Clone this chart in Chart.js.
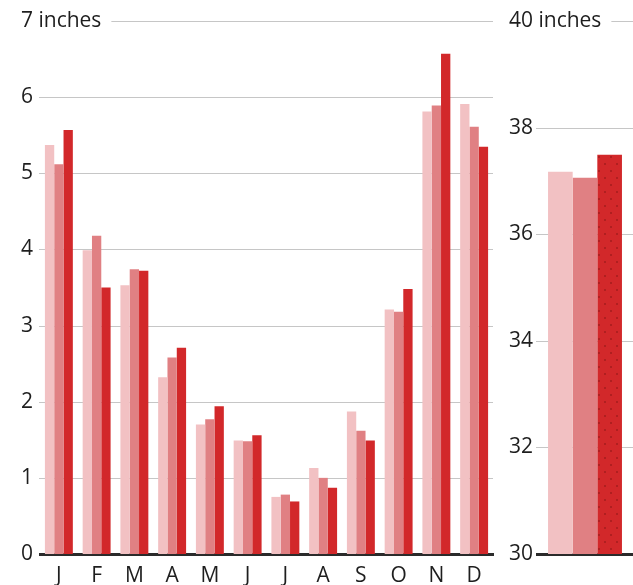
<!DOCTYPE html>
<html>
<head>
<meta charset="utf-8">
<script src="https://cdn.jsdelivr.net/npm/chart.js@4.4.1/dist/chart.umd.min.js"></script>
<style>
  html, body { margin: 0; padding: 0; background: #ffffff; }
  body { width: 633px; height: 585px; position: relative; overflow: hidden; }
  canvas { position: absolute; top: 0; }
  #monthly { left: 0; }
  #annual { left: 500px; }
</style>
</head>
<body>
<canvas id="monthly" width="500" height="585"></canvas>
<canvas id="annual" width="133" height="585"></canvas>
<script>
// ---- data ----
const months = ['J', 'F', 'M', 'A', 'M', 'J', 'J', 'A', 'S', 'O', 'N', 'D'];
const seriesNames = ['Period 1', 'Period 2', 'Period 3'];
const period1 = [5.37, 3.99, 3.53, 2.32, 1.70, 1.49, 0.75, 1.13, 1.87, 3.21, 5.81, 5.91];
const period2 = [5.12, 4.18, 3.74, 2.58, 1.77, 1.48, 0.78, 1.00, 1.62, 3.18, 5.89, 5.61];
const period3 = [5.57, 3.50, 3.72, 2.71, 1.94, 1.56, 0.69, 0.87, 1.49, 3.48, 6.57, 5.35];
const annualCategory = ['Year'];
const annualTotals = [37.17, 37.06, 37.49];
const monthlyTopLabel = '7 inches';
const annualTopLabel = '40 inches';

// ---- style ----
const FONT = '"Open Sans", "DejaVu Sans", sans-serif';
const FONT_SIZE = 21;
const colors = ['#f2c1c3', '#e08083', '#d2282a'];
const gridColor = '#c6c6c6';
const textColor = '#1e1e1e';

function dottedPattern() {
  const c = document.createElement('canvas');
  c.width = 12; c.height = 14;
  const x = c.getContext('2d');
  x.fillStyle = colors[2];
  x.fillRect(0, 0, 12, 14);
  x.fillStyle = '#a41c1e';
  x.beginPath(); x.arc(3, 3, 1, 0, Math.PI * 2); x.fill();
  x.beginPath(); x.arc(9, 10, 1, 0, Math.PI * 2); x.fill();
  return x.createPattern(c, 'repeat');
}

// plugin: grid lines + top label with shortened line
function gridPlugin(topLabel) {
  return {
    id: 'customGrid',
    beforeDatasetsDraw(chart) {
      const ctx = chart.ctx;
      const y = chart.scales.y;
      const area = chart.chartArea;
      ctx.save();
      ctx.strokeStyle = gridColor;
      ctx.lineWidth = 1;
      const ticks = y.ticks;
      ctx.font = FONT_SIZE + 'px ' + FONT;
      const pad = chart.options.scales.y.ticks.padding;
      let maxW = 0;
      ticks.forEach(t => {
        if (t.value !== y.max) maxW = Math.max(maxW, ctx.measureText(String(t.value)).width);
      });
      ticks.forEach(t => {
        if (t.value === y.min) return;
        const py = Math.round(y.getPixelForValue(t.value)) + 0.5;
        if (t.value === y.max) {
          const tx = y.right - pad - maxW;
          ctx.fillStyle = textColor;
          ctx.textAlign = 'left';
          ctx.textBaseline = 'middle';
          ctx.fillText(topLabel, tx, py);
          const endX = tx + ctx.measureText(topLabel).width + 10;
          ctx.beginPath(); ctx.moveTo(endX, py); ctx.lineTo(area.right, py); ctx.stroke();
        } else {
          ctx.beginPath(); ctx.moveTo(area.left - 1, py); ctx.lineTo(area.right, py); ctx.stroke();
        }
      });
      ctx.restore();
    }
  };
}

function baseOptions(yMin, yMax, step, yWidth, catPct, rightPad, labelPad) {
  return {
    responsive: false,
    animation: false,
    devicePixelRatio: 1,
    layout: { padding: { top: 21, right: rightPad, left: 0, bottom: 0 } },
    plugins: { legend: { display: false }, tooltip: { enabled: false } },
    datasets: { bar: { categoryPercentage: catPct, barPercentage: 1.0 } },
    scales: {
      x: {
        grid: { display: false, drawTicks: false },
        border: { display: true, color: '#2b2b2b', width: 3 },
        ticks: { color: textColor, font: { family: FONT, size: FONT_SIZE }, padding: 9, maxRotation: 0, autoSkip: false },
        afterFit(scale) { scale.height = 31; }
      },
      y: {
        min: yMin, max: yMax,
        grid: { display: false, drawTicks: false },
        border: { display: false },
        ticks: {
          stepSize: step,
          padding: labelPad,
          color: textColor,
          font: { family: FONT, size: FONT_SIZE },
          callback: (v) => (v === yMax ? '' : String(v))
        },
        afterFit(scale) { scale.width = yWidth; }
      }
    }
  };
}

const monthlyOpts = baseOptions(0, 7, 1, 40, 0.74, 7, 7);
new Chart(document.getElementById('monthly'), {
  type: 'bar',
  data: {
    labels: months,
    datasets: [
      { label: seriesNames[0], data: period1, backgroundColor: colors[0] },
      { label: seriesNames[1], data: period2, backgroundColor: colors[1] },
      { label: seriesNames[2], data: period3, backgroundColor: colors[2] }
    ]
  },
  options: monthlyOpts,
  plugins: [gridPlugin(monthlyTopLabel)]
});

const annualOpts = baseOptions(30, 40, 2, 37, 0.77, 0, 4);
annualOpts.scales.x.ticks.display = false;
new Chart(document.getElementById('annual'), {
  type: 'bar',
  data: {
    labels: annualCategory,
    datasets: [
      { label: seriesNames[0], data: [annualTotals[0]], backgroundColor: colors[0] },
      { label: seriesNames[1], data: [annualTotals[1]], backgroundColor: colors[1] },
      { label: seriesNames[2], data: [annualTotals[2]], backgroundColor: dottedPattern() }
    ]
  },
  options: annualOpts,
  plugins: [gridPlugin(annualTopLabel)]
});
</script>
</body>
</html>
